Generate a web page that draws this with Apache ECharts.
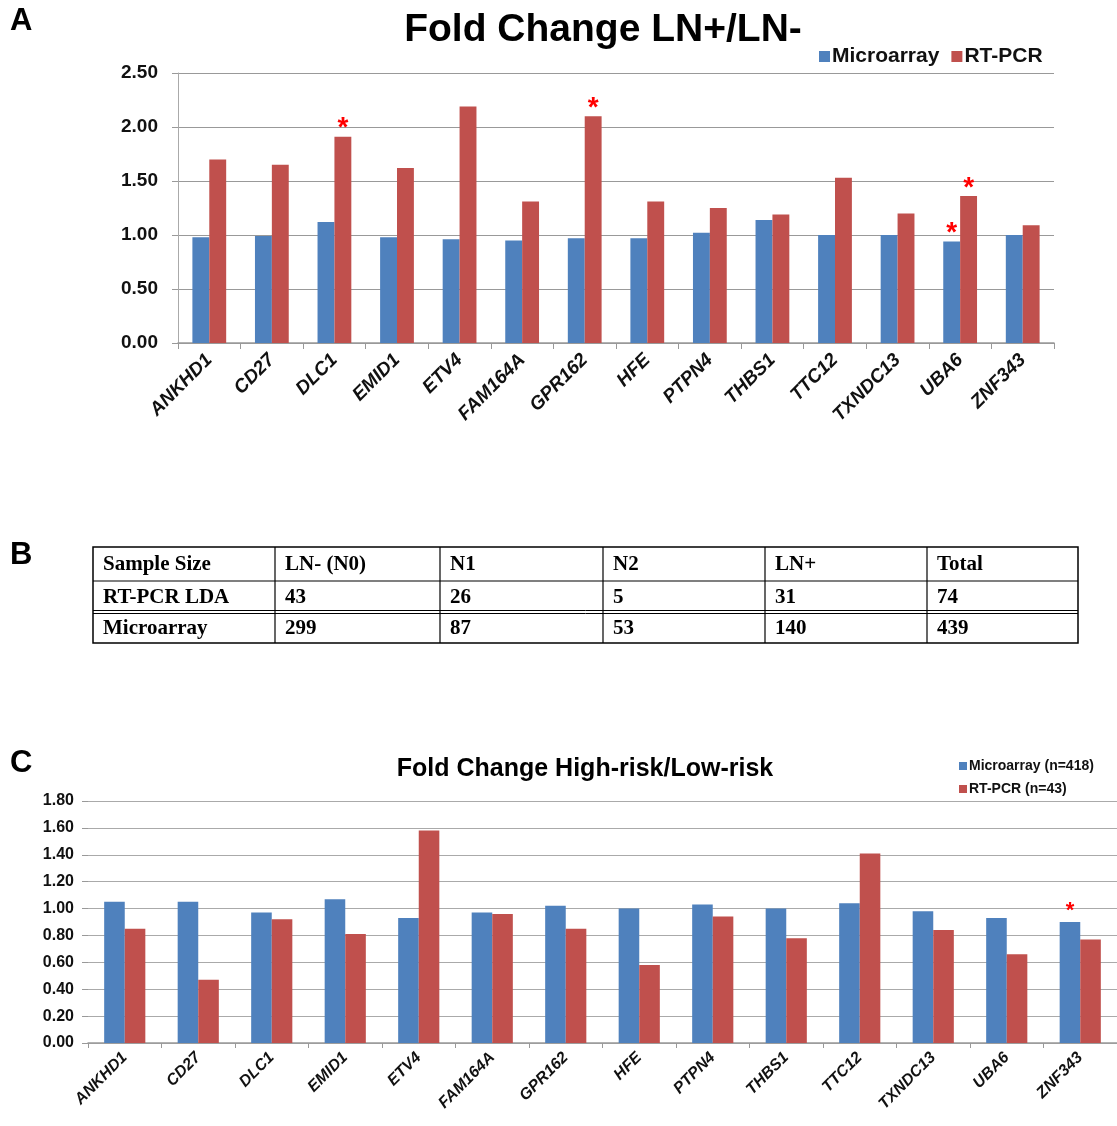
<!DOCTYPE html>
<html>
<head>
<meta charset="utf-8">
<script src="https://cdn.jsdelivr.net/npm/echarts@6/dist/echarts.min.js"></script>
<style>
  html, body { margin: 0; padding: 0; background: #fff; }
  #main { width: 1117px; height: 1126px; }
</style>
</head>
<body>
<div id="main"></div>
<script>
const genes = ['ANKHD1', 'CD27', 'DLC1', 'EMID1', 'ETV4', 'FAM164A', 'GPR162', 'HFE', 'PTPN4', 'THBS1', 'TTC12', 'TXNDC13', 'UBA6', 'ZNF343']

// panel A: fold change LN+/LN-
const lnMicroarray = [0.98, 0.99, 1.12, 0.98, 0.96, 0.95, 0.97, 0.97, 1.02, 1.14, 1.00, 1.00, 0.94, 1.00]
const lnRtpcr = [1.70, 1.65, 1.91, 1.62, 2.19, 1.31, 2.10, 1.31, 1.25, 1.19, 1.53, 1.20, 1.36, 1.09]
const lnMicroarrayStars = ['UBA6']
const lnRtpcrStars = ['DLC1', 'GPR162', 'UBA6']
const lnTicks = [0, 0.5, 1.0, 1.5, 2.0, 2.5]

// panel C: fold change high-risk/low-risk
const riskMicroarray = [1.05, 1.05, 0.97, 1.07, 0.93, 0.97, 1.02, 1.00, 1.03, 1.00, 1.04, 0.98, 0.93, 0.90]
const riskRtpcr = [0.85, 0.47, 0.92, 0.81, 1.58, 0.96, 0.85, 0.58, 0.94, 0.78, 1.41, 0.84, 0.66, 0.77]
const riskMicroarrayStars = ['ZNF343']
const riskRtpcrStars = []
const riskTicks = [0, 0.2, 0.4, 0.6, 0.8, 1.0, 1.2, 1.4, 1.6, 1.8]

// panel B: sample sizes
const tableHeader = ['Sample Size', 'LN- (N0)', 'N1', 'N2', 'LN+', 'Total']
const tableRtpcr = ['RT-PCR LDA', '43', '26', '5', '31', '74']
const tableMicroarray = ['Microarray', '299', '87', '53', '140', '439']

const blue = '#4F81BD'
const red = '#C0504D'

function withStars(values, stars, size, lift) {
  return values.map((v, i) => {
    if (stars.indexOf(genes[i]) < 0) return v
    return {
      value: v,
      label: {
        show: true,
        position: 'top',
        formatter: '*',
        color: '#ff0000',
        fontSize: size,
        fontWeight: 'bold',
        fontFamily: 'Arial',
        distance: 0,
        offset: [0, lift]
      }
    }
  })
}

// table layout
const colX = [93, 275, 440, 603, 765, 927, 1078]
const rowY = [547, 581, 612, 643]
const tableRows = [tableHeader, tableRtpcr, tableMicroarray]

function buildTable() {
  const els = []
  els.push({
    type: 'rect',
    shape: { x: colX[0], y: rowY[0], width: colX[6] - colX[0], height: rowY[3] - rowY[0] },
    style: { fill: 'none', stroke: '#000', lineWidth: 1.5 }
  })
  els.push({ type: 'line', shape: { x1: colX[0], y1: rowY[1], x2: colX[6], y2: rowY[1] }, style: { stroke: '#000', lineWidth: 1.2 } })
  els.push({ type: 'line', shape: { x1: colX[0], y1: rowY[2] - 1.5, x2: colX[6], y2: rowY[2] - 1.5 }, style: { stroke: '#000', lineWidth: 1 } })
  els.push({ type: 'line', shape: { x1: colX[0], y1: rowY[2] + 1.5, x2: colX[6], y2: rowY[2] + 1.5 }, style: { stroke: '#000', lineWidth: 1 } })
  for (let c = 1; c < 6; c++) {
    els.push({ type: 'line', shape: { x1: colX[c], y1: rowY[0], x2: colX[c], y2: rowY[3] }, style: { stroke: '#000', lineWidth: 1.2 } })
  }
  tableRows.forEach((row, r) => {
    row.forEach((txt, c) => {
      els.push({
        type: 'text',
        x: colX[c] + 10,
        y: (rowY[r] + rowY[r + 1]) / 2 + 1,
        style: {
          text: txt,
          fill: '#000',
          font: 'bold 21px "Liberation Serif", "Times New Roman", serif',
          verticalAlign: 'middle',
          align: 'left'
        }
      })
    })
  })
  return els
}

const chart = echarts.init(document.getElementById('main'), null, { renderer: 'canvas' })

chart.setOption({
  backgroundColor: '#fff',
  animation: false,
  title: [
    {
      text: 'Fold Change LN+/LN-',
      left: 598,
      top: 6,
      textAlign: 'center',
      textStyle: { fontFamily: 'Arial', fontSize: 39, fontWeight: 'bold', color: '#000' }
    },
    {
      text: 'Fold Change High-risk/Low-risk',
      left: 580,
      top: 752,
      textAlign: 'center',
      textStyle: { fontFamily: 'Arial', fontSize: 25, fontWeight: 'bold', color: '#000' }
    }
  ],
  legend: [
    {
      data: ['Microarray', 'RT-PCR'],
      left: 814,
      top: 41,
      itemWidth: 11,
      itemHeight: 11,
      itemGap: 12,
      icon: 'rect',
      textStyle: { fontFamily: 'Arial', fontSize: 21, fontWeight: 'bold', color: '#111', padding: [0, 0, 0, -3] }
    },
    {
      data: ['Microarray (n=418)', 'RT-PCR (n=43)'],
      orient: 'vertical',
      left: 954,
      top: 754,
      itemWidth: 8,
      itemHeight: 8,
      itemGap: 9,
      icon: 'rect',
      textStyle: { fontFamily: 'Arial', fontSize: 14, fontWeight: 'bold', color: '#111', padding: [0, 0, 0, -3] }
    }
  ],
  grid: [
    { left: 178, width: 876, top: 73, height: 270 },
    { left: 88, width: 1050, top: 801, height: 242 }
  ],
  xAxis: [
    {
      type: 'category',
      gridIndex: 0,
      data: genes,
      axisLine: { lineStyle: { color: '#999', width: 1.5 } },
      axisTick: { show: true, length: 6, lineStyle: { color: '#999' } },
      axisLabel: {
        rotate: 45,
        interval: 0,
        margin: 14,
        fontFamily: 'Arial',
        fontSize: 19,
        fontWeight: 'bold',
        fontStyle: 'italic',
        color: '#111'
      }
    },
    {
      type: 'category',
      gridIndex: 1,
      data: genes,
      axisLine: { lineStyle: { color: '#999', width: 1.5 } },
      axisTick: { show: true, length: 5, lineStyle: { color: '#999' } },
      axisLabel: {
        rotate: 45,
        interval: 0,
        margin: 12,
        fontFamily: 'Arial',
        fontSize: 16,
        fontWeight: 'bold',
        fontStyle: 'italic',
        color: '#111'
      }
    }
  ],
  yAxis: [
    {
      type: 'value',
      gridIndex: 0,
      min: lnTicks[0],
      max: lnTicks[lnTicks.length - 1],
      interval: lnTicks[1] - lnTicks[0],
      axisLine: { show: true, lineStyle: { color: '#aaa' } },
      axisTick: { show: true, length: 6, lineStyle: { color: '#999' } },
      splitLine: { lineStyle: { color: '#999', width: 1.2 } },
      axisLabel: {
        margin: 20,
        fontFamily: 'Arial',
        fontSize: 19,
        fontWeight: 'bold',
        color: '#111',
        formatter: v => v.toFixed(2)
      }
    },
    {
      type: 'value',
      gridIndex: 1,
      min: riskTicks[0],
      max: riskTicks[riskTicks.length - 1],
      interval: 0.2,
      axisLine: { show: false },
      axisTick: { show: true, length: 6, lineStyle: { color: '#999' } },
      splitLine: { lineStyle: { color: '#aaa', width: 1.2 } },
      axisLabel: {
        margin: 14,
        fontFamily: 'Arial',
        fontSize: 16,
        fontWeight: 'bold',
        color: '#111',
        formatter: v => v.toFixed(2)
      }
    }
  ],
  series: [
    {
      name: 'Microarray',
      type: 'bar',
      xAxisIndex: 0,
      yAxisIndex: 0,
      barWidth: '27%',
      barGap: '0%',
      itemStyle: { color: blue },
      data: withStars(lnMicroarray, lnMicroarrayStars, 28, 6)
    },
    {
      name: 'RT-PCR',
      type: 'bar',
      xAxisIndex: 0,
      yAxisIndex: 0,
      barWidth: '27%',
      barGap: '0%',
      itemStyle: { color: red },
      data: withStars(lnRtpcr, lnRtpcrStars, 28, 6)
    },
    {
      name: 'Microarray (n=418)',
      type: 'bar',
      xAxisIndex: 1,
      yAxisIndex: 1,
      barWidth: '28%',
      barGap: '0%',
      itemStyle: { color: blue },
      data: withStars(riskMicroarray, riskMicroarrayStars, 22, 0)
    },
    {
      name: 'RT-PCR (n=43)',
      type: 'bar',
      xAxisIndex: 1,
      yAxisIndex: 1,
      barWidth: '28%',
      barGap: '0%',
      itemStyle: { color: red },
      data: withStars(riskRtpcr, riskRtpcrStars, 22, 0)
    }
  ],
  graphic: [
    { type: 'text', left: 10, top: 6, style: { text: 'A', font: 'bold 31px Arial', fill: '#000' } },
    { type: 'text', left: 10, top: 540, style: { text: 'B', font: 'bold 31px Arial', fill: '#000' } },
    { type: 'text', left: 10, top: 748, style: { text: 'C', font: 'bold 31px Arial', fill: '#000' } }
  ].concat(buildTable())
})
</script>
</body>
</html>
